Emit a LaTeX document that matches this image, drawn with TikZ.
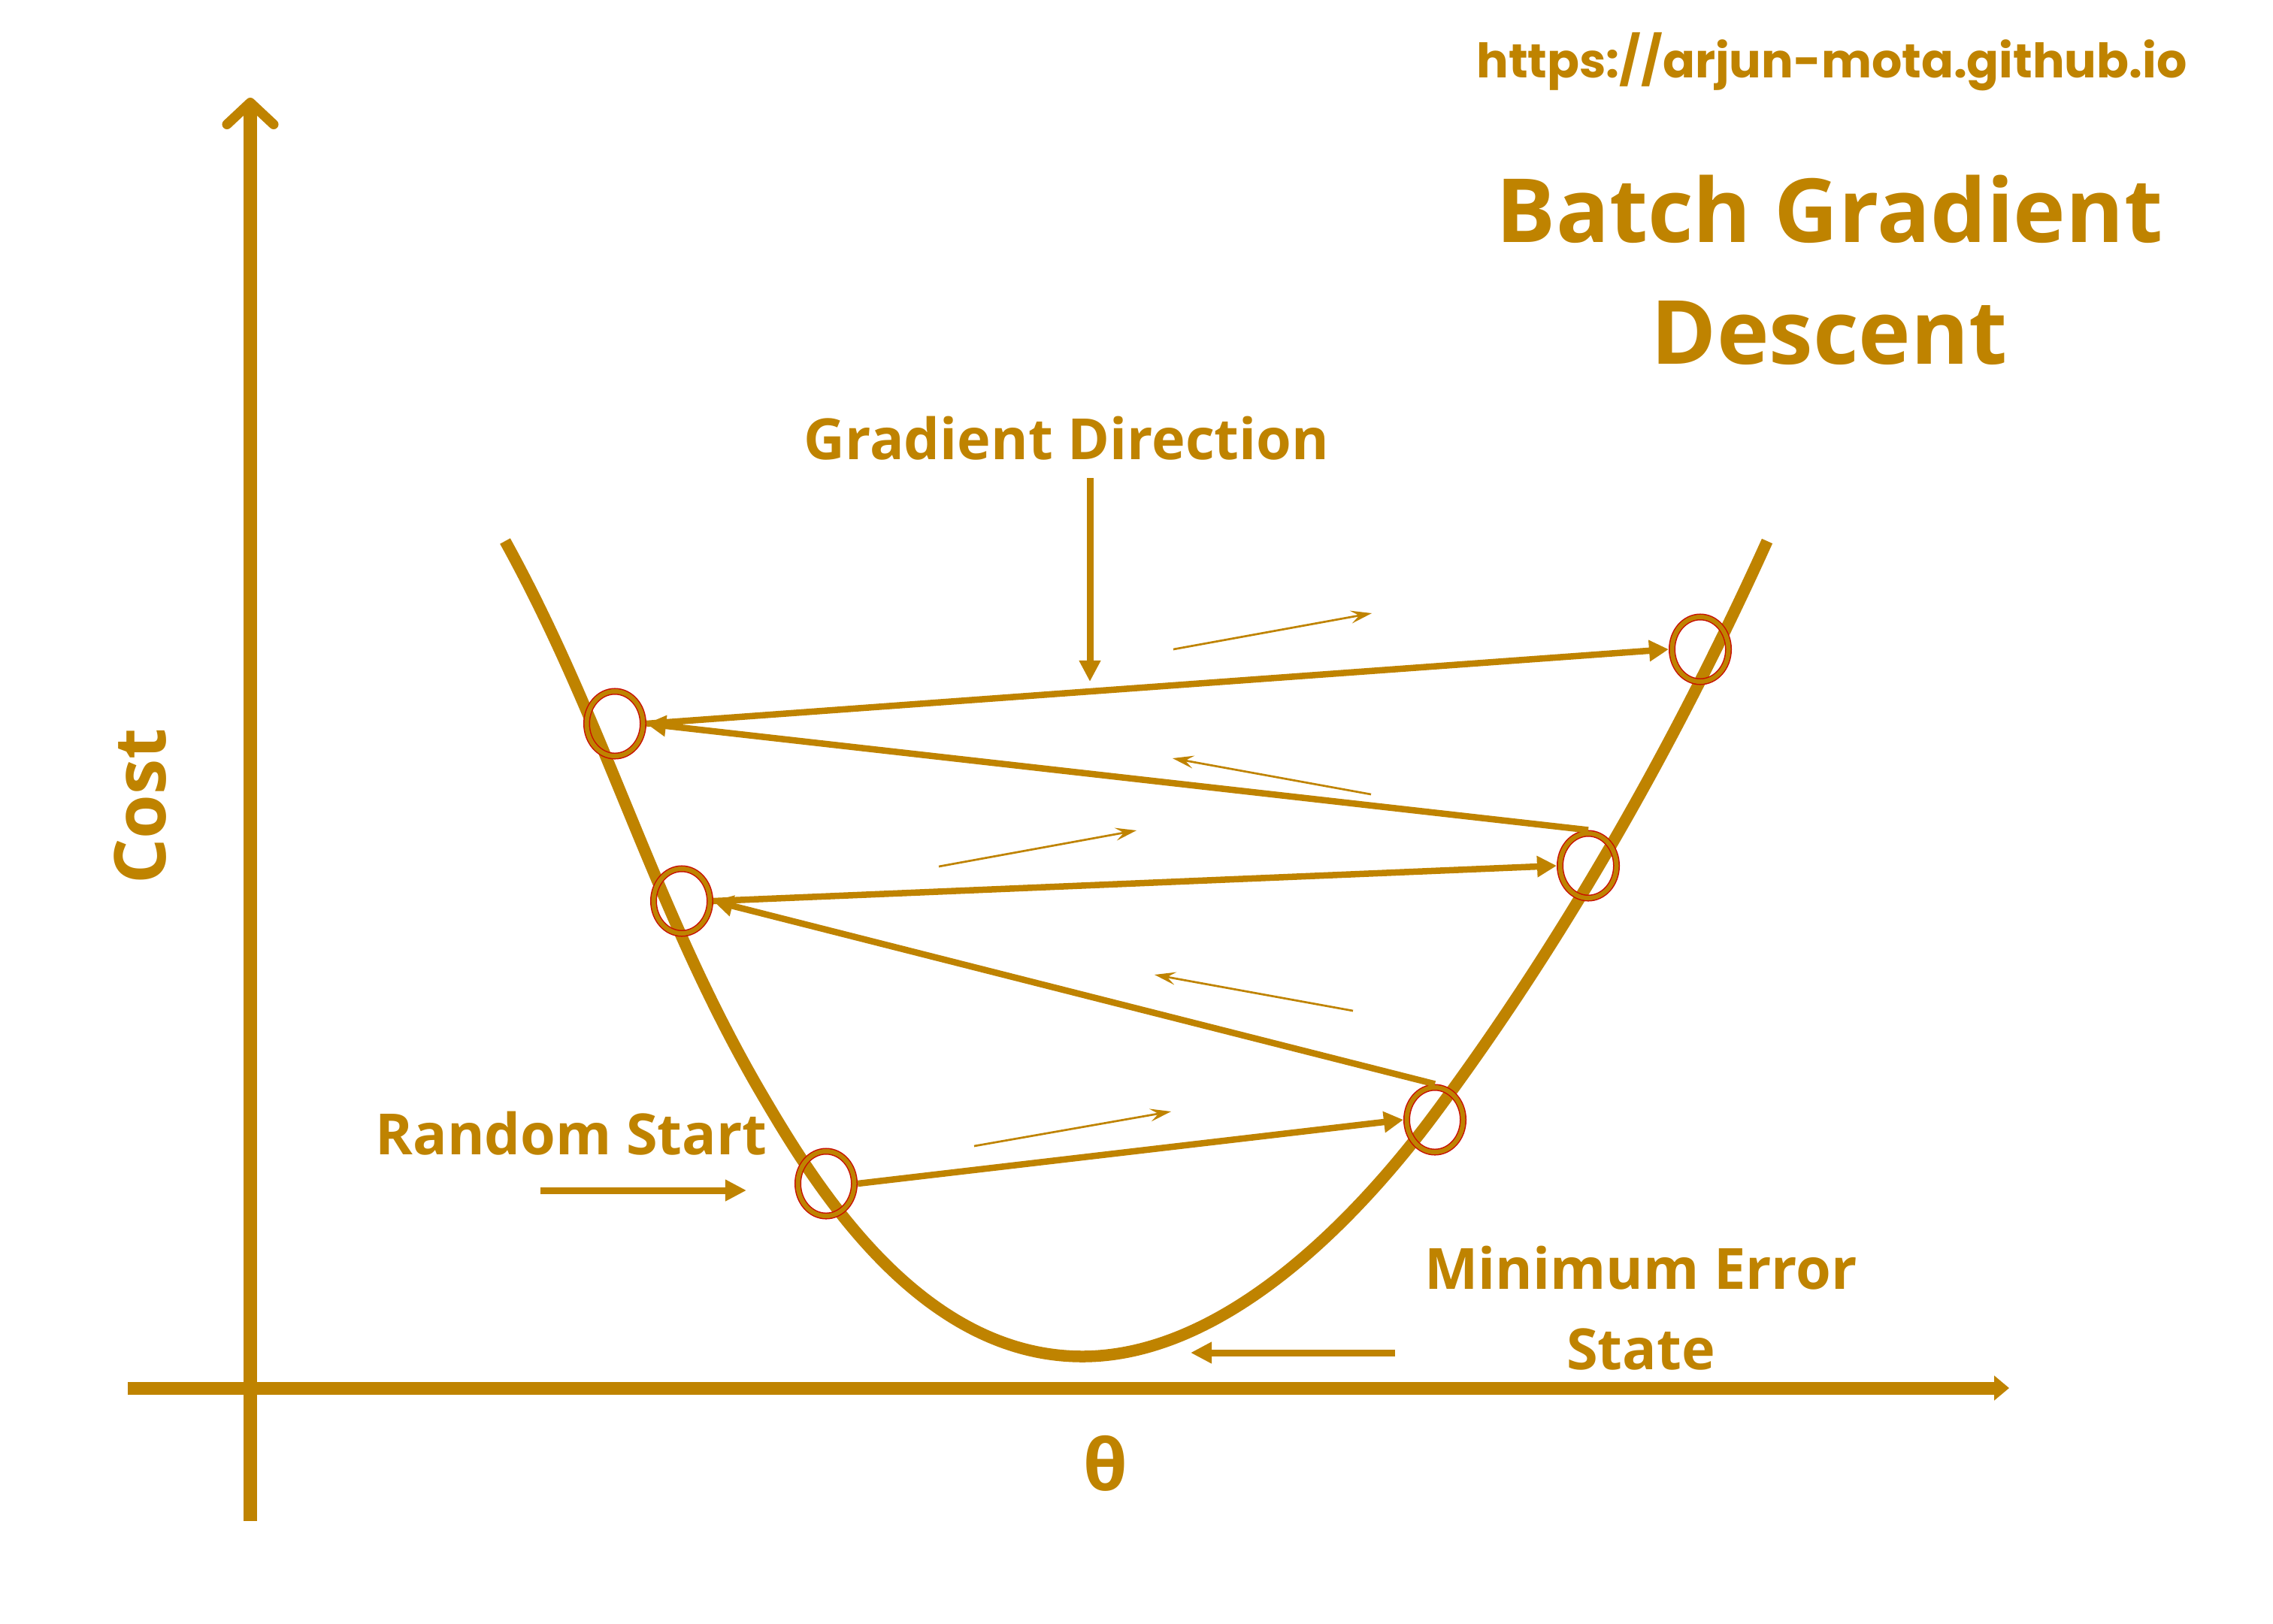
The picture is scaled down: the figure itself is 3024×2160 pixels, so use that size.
\documentclass[tikz,border=0pt]{standalone}
\usepackage{fontspec}
\usepackage{tikz}
\usetikzlibrary{arrows.meta,shapes.geometric}
\newfontfamily\labelfont{Open Sans}
\newfontfamily\urlfont{Poppins}
\definecolor{gdgold}{RGB}{191,131,0}
\definecolor{ringred}{RGB}{200,16,0}

\begin{document}
\begin{tikzpicture}[x=0.01cm, y=-0.01cm,
    axisline/.style={draw=gdgold, line width=0.17cm},
    costcurve/.style={draw=gdgold, line width=0.155cm},
    ringnode/.style={ellipse, draw=ringred, line width=0.015cm, double=gdgold, double distance=0.06cm,
        minimum width=0.75cm, minimum height=0.86cm, inner sep=0pt, outer sep=0.045cm},
    stepline/.style={draw=gdgold, line width=0.085cm, -{Triangle[length=0.26cm, width=0.27cm]}},
    pointer/.style={draw=gdgold, line width=0.09cm, -{Triangle[length=0.28cm, width=0.27cm]}},
    smallarrow/.style={draw=gdgold, line width=0.027cm, -{Stealth[length=0.28cm, width=0.17cm, inset=0.11cm]}},
    labeltext/.style={text=gdgold, inner sep=0pt, font=\labelfont\bfseries\fontsize{21.5}{26}\selectfont},
    headtext/.style={text=gdgold, inner sep=0pt, font=\labelfont\bfseries\fontsize{33.5}{40}\selectfont},
    urltext/.style={text=gdgold, inner sep=0pt, font=\urlfont\bfseries\fontsize{18}{22}\selectfont},
    axistext/.style={text=gdgold, inner sep=0pt, font=\labelfont\bfseries\fontsize{27}{32}\selectfont}]

    \useasboundingbox (0,0) rectangle (3024,2160);

    % axes
    \coordinate (ytop) at (333,130);
    \coordinate (ybottom) at (333,2024);
    \coordinate (xleft) at (170,1847);
    \coordinate (xright) at (2673,1847);
    \draw[axisline, -{Straight Barb[length=0.29cm, width=0.62cm, round, line width=0.13cm]}] (ybottom) -- (ytop);
    \draw[axisline, -{Triangle[length=0.2cm, width=0.32cm]}] (xleft) -- (xright);

    % cost curve
    \draw[costcurve] (672,720) .. controls (806,963) and (869,1207) .. (1010,1450)
        .. controls (1080,1570) and (1220,1805) .. (1440,1805)
        .. controls (1640,1805) and (1820,1600) .. (1903,1490)
        .. controls (2090,1240) and (2238,970) .. (2351,720);

    % steps on the curve
    \node[ringnode] (p1) at (818,963) {};
    \node[ringnode] (p2) at (907,1199) {};
    \node[ringnode] (p3) at (1099,1575) {};
    \node[ringnode] (p4) at (1909,1490) {};
    \node[ringnode] (p5) at (2113,1152) {};
    \node[ringnode] (p6) at (2262,864) {};

    \draw[stepline] (p3.east) -- (p4.west);
    \draw[stepline] (p4.north) -- (p2.east);
    \draw[stepline] (p2.east) -- (p5.west);
    \draw[stepline] (p5.north) -- (p1.east);
    \draw[stepline] (p1.east) -- (p6.west);

    % direction hints
    \foreach \n/\xa/\ya/\xb/\yb in {1/1561/864/1825/816, 2/1824/1057/1560/1009, 3/1249/1153/1512/1105,
        4/1800/1345/1536/1297, 5/1296/1525/1558/1479} {
        \coordinate (h\n a) at (\xa,\ya);
        \coordinate (h\n b) at (\xb,\yb);
        \draw[smallarrow] (h\n a) -- (h\n b);
    }

    % labels
    \node[urltext, anchor=base] (url) at (2437,103) {https://arjun-mota.github.io};
    \node[headtext, anchor=base] (title1) at (2434,322) {Batch Gradient};
    \node[headtext, anchor=base] (title2) at (2434,484) {Descent};
    \node[labeltext, anchor=base] (graddir) at (1419,611) {Gradient Direction};
    \node[labeltext, anchor=base] (start) at (760,1536) {Random Start};
    \node[labeltext, anchor=base] (minerr) at (2183,1715) {Minimum Error};
    \node[labeltext, anchor=base] (state) at (2183,1822) {State};
    \node[axistext, rotate=90] (cost) at (187,1073) {Cost};
    \node[axistext] (theta) at (1471,1947) {θ};

    \coordinate (gradtop) at (1450,636);
    \coordinate (gradtip) at (1450,907);
    \draw[pointer] (gradtop) -- (gradtip);
    \coordinate (starttail) at (719,1584);
    \coordinate (starttip) at (993,1584);
    \draw[pointer] (starttail) -- (starttip);
    \coordinate (mintail) at (1856,1800);
    \coordinate (mintip) at (1584,1800);
    \draw[pointer] (mintail) -- (mintip);

\end{tikzpicture}
\end{document}
